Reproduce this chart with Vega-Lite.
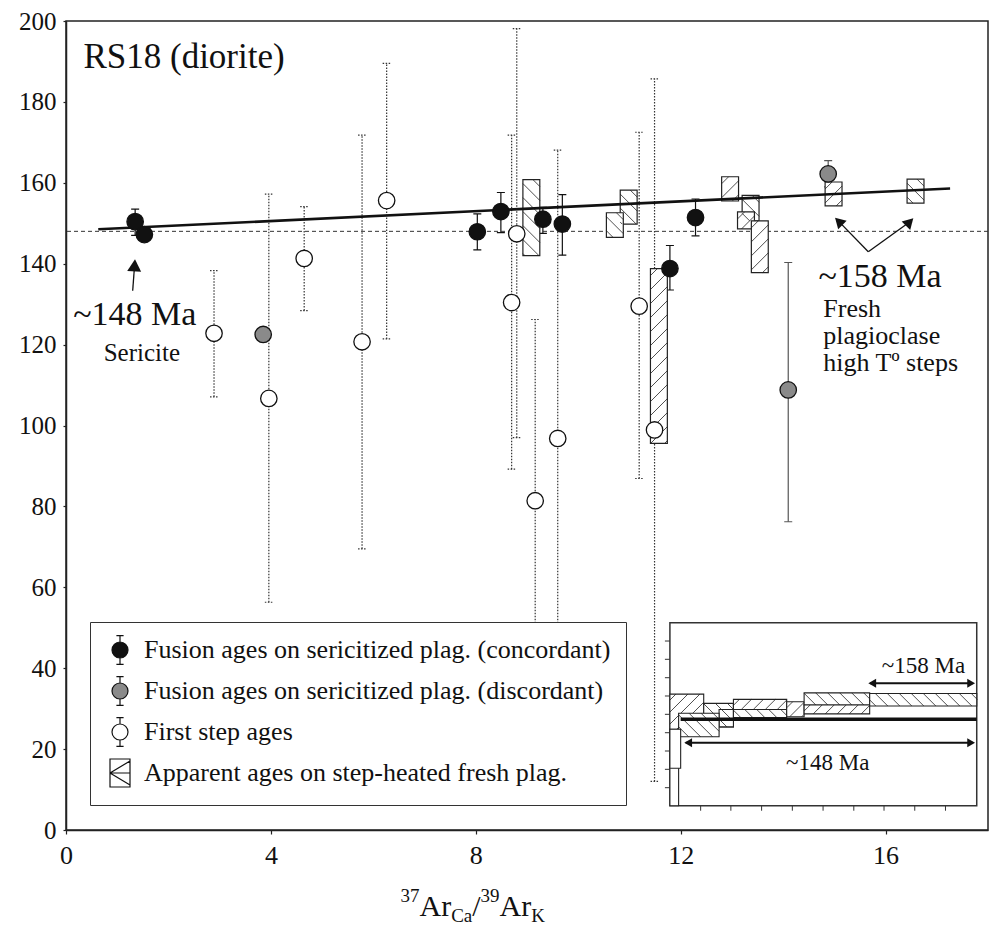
{
  "$schema": "https://vega.github.io/schema/vega-lite/v6.json",
  "width": 922,
  "height": 809,
  "autosize": {"type": "none"},
  "padding": {"left": 66, "top": 21, "right": 1, "bottom": 99},
  "background": "white",
  "config": {
    "font": "Liberation Serif",
    "view": {"stroke": "#222", "strokeWidth": 1.5},
    "axis": {"labelFont": "Liberation Serif", "labelColor": "#111", "domainColor": "#222", "tickColor": "#222", "domainWidth": 1.5, "tickWidth": 1.2, "grid": false},
    "text": {"font": "Liberation Serif", "color": "#111"}
  },
  "datasets": {
    "pts": [
      {"type": "Fusion ages on sericitized plag. (concordant)", "x": 1.35, "y": 150.4, "lo": 147.0, "hi": 153.5},
      {"type": "Fusion ages on sericitized plag. (concordant)", "x": 1.53, "y": 147.2},
      {"type": "Fusion ages on sericitized plag. (concordant)", "x": 8.03, "y": 147.9, "lo": 143.4, "hi": 152.3},
      {"type": "Fusion ages on sericitized plag. (concordant)", "x": 8.49, "y": 152.9, "lo": 147.7, "hi": 157.6},
      {"type": "Fusion ages on sericitized plag. (concordant)", "x": 9.31, "y": 151.0, "lo": 147.5, "hi": 153.9},
      {"type": "Fusion ages on sericitized plag. (concordant)", "x": 9.69, "y": 149.8, "lo": 142.1, "hi": 157.1},
      {"type": "Fusion ages on sericitized plag. (concordant)", "x": 11.79, "y": 138.8, "lo": 133.5, "hi": 144.5},
      {"type": "Fusion ages on sericitized plag. (concordant)", "x": 12.29, "y": 151.4, "lo": 146.9, "hi": 156.0},
      {"type": "Fusion ages on sericitized plag. (discordant)", "x": 3.85, "y": 122.5},
      {"type": "Fusion ages on sericitized plag. (discordant)", "x": 14.10, "y": 108.8, "lo": 76.2, "hi": 140.3},
      {"type": "Fusion ages on sericitized plag. (discordant)", "x": 14.88, "y": 162.2, "lo": 159.0, "hi": 165.5},
      {"type": "First step ages", "x": 2.89, "y": 122.8, "lo": 107.1, "hi": 138.3},
      {"type": "First step ages", "x": 3.96, "y": 106.7, "lo": 56.3, "hi": 157.2},
      {"type": "First step ages", "x": 4.65, "y": 141.3, "lo": 128.4, "hi": 154.1},
      {"type": "First step ages", "x": 5.78, "y": 120.7, "lo": 69.5, "hi": 171.8},
      {"type": "First step ages", "x": 6.26, "y": 155.6, "lo": 121.4, "hi": 189.5},
      {"type": "First step ages", "x": 8.70, "y": 130.4, "lo": 89.2, "hi": 171.8},
      {"type": "First step ages", "x": 8.80, "y": 147.4, "lo": 97.0, "hi": 198.1},
      {"type": "First step ages", "x": 9.16, "y": 81.4, "lo": 40.0, "hi": 126.2},
      {"type": "First step ages", "x": 9.60, "y": 96.8, "lo": 40.0, "hi": 168.1},
      {"type": "First step ages", "x": 11.19, "y": 129.5, "lo": 86.9, "hi": 172.5},
      {"type": "First step ages", "x": 11.49, "y": 98.9, "lo": 12.0, "hi": 185.7}
    ],
    "steps": [
      {"id": "B1", "x1": 8.92, "x2": 9.25, "y1": 142.0, "y2": 160.8},
      {"id": "B3", "x1": 10.82, "x2": 11.15, "y1": 149.8, "y2": 158.2},
      {"id": "B2", "x1": 10.55, "x2": 10.88, "y1": 146.5, "y2": 152.6},
      {"id": "B4", "x1": 11.41, "x2": 11.74, "y1": 95.6, "y2": 138.8},
      {"id": "B5", "x1": 12.80, "x2": 13.13, "y1": 155.5, "y2": 161.5},
      {"id": "B6", "x1": 13.20, "x2": 13.53, "y1": 150.6, "y2": 156.9},
      {"id": "B7", "x1": 13.11, "x2": 13.44, "y1": 148.6, "y2": 152.8},
      {"id": "B8", "x1": 13.38, "x2": 13.71, "y1": 137.8, "y2": 150.6},
      {"id": "B9", "x1": 14.82, "x2": 15.15, "y1": 154.3, "y2": 160.2},
      {"id": "B10", "x1": 16.42, "x2": 16.75, "y1": 155.0, "y2": 160.9}
    ],
    "spectrum": [
      {"id": "A", "x1": 11.79, "x2": 12.45, "y1": 24.0, "y2": 33.6},
      {"id": "B", "x1": 12.45, "x2": 13.03, "y1": 25.5, "y2": 31.3},
      {"id": "D", "x1": 12.75, "x2": 13.03, "y1": 25.5, "y2": 29.8},
      {"id": "C", "x1": 11.96, "x2": 12.75, "y1": 23.05, "y2": 28.85},
      {"id": "E1", "x1": 13.03, "x2": 14.07, "y1": 29.8, "y2": 32.3},
      {"id": "E2", "x1": 13.03, "x2": 14.07, "y1": 27.8, "y2": 29.8},
      {"id": "F", "x1": 14.07, "x2": 14.41, "y1": 28.0, "y2": 31.7},
      {"id": "G1", "x1": 14.41, "x2": 15.69, "y1": 30.9, "y2": 33.9},
      {"id": "G2", "x1": 14.41, "x2": 15.69, "y1": 28.7, "y2": 30.9},
      {"id": "H", "x1": 15.69, "x2": 17.78, "y1": 30.65, "y2": 33.75},
      {"id": "R1", "x1": 11.79, "x2": 11.96, "y1": 6.0, "y2": 24.9},
      {"id": "R2", "x1": 11.79, "x2": 12.0, "y1": 15.25, "y2": 24.9}
    ],
    "arrows": [
      {"g": "thin", "x": 1.302, "y": 133.3, "x2": 1.339, "y2": 139.6},
      {"g": "thin", "x": 15.663, "y": 142.97, "x2": 15.086, "y2": 150.46},
      {"g": "thin", "x": 15.663, "y": 142.97, "x2": 16.47, "y2": 150.3},
      {"g": "thick", "x": 12.10, "y": 21.6, "x2": 17.70, "y2": 21.6},
      {"g": "thick", "x": 15.70, "y": 36.3, "x2": 17.70, "y2": 36.3},
      {"g": "bold", "x": 12.0, "y": 27.4, "x2": 17.78, "y2": 27.4}
    ],
    "heads": [
      {"g": "up", "x": 1.339, "y": 139.6},
      {"g": "vl", "x": 15.086, "y": 150.46},
      {"g": "vr", "x": 16.47, "y": 150.3},
      {"g": "il", "x": 12.147, "y": 21.6},
      {"g": "il", "x": 15.74, "y": 36.3},
      {"g": "ir", "x": 17.671, "y": 21.6},
      {"g": "ir", "x": 17.671, "y": 36.3}
    ],
    "notes": [
      {"g": "n35", "x": 0.34, "y": 188.3, "text": "RS18 (diorite)"},
      {"g": "n34", "x": 0.14, "y": 124.8, "text": "~148 Ma"},
      {"g": "n34", "x": 14.69, "y": 134.3, "text": "~158 Ma"},
      {"g": "n25", "x": 1.48, "y": 116.0, "text": "Sericite"},
      {"g": "fresh", "x": 14.785, "y": 126.9, "text": "Fresh\nplagioclase\nhigh Tº steps"},
      {"g": "n23", "x": 16.74, "y": 38.7, "text": "~158 Ma"},
      {"g": "n23", "x": 14.87, "y": 14.8, "text": "~148 Ma"}
    ],
    "insetframe": [{"x1": 11.79, "x2": 17.78, "y1": 6.0, "y2": 51.25}],
    "insetyticks": [{"v": 10.46}, {"v": 15.0}, {"v": 19.53}, {"v": 24.05}, {"v": 28.6}, {"v": 33.13}, {"v": 37.65}, {"v": 42.2}, {"v": 46.72}],
    "insetxticks": [{"v": 12.39}, {"v": 12.98}, {"v": 13.58}, {"v": 14.18}, {"v": 14.78}, {"v": 15.38}, {"v": 15.97}, {"v": 16.57}, {"v": 17.17}],
    "xtitle": [{"x": 6.53, "y": -21.26}]
  },
  "layer": [
    {
      "data": {"name": "pts"},
      "transform": [{"filter": "isValid(datum.lo)"}],
      "mark": {"type": "rule", "strokeWidth": 1.2},
      "encoding": {
        "x": {"field": "x", "type": "quantitative", "scale": {"domain": [0, 18], "nice": false, "zero": false},
          "axis": {"title": null, "values": [0, 4, 8, 12, 16], "labelFontSize": 26, "labelPadding": 8, "labelFlush": false, "tickSize": 4}},
        "y": {"field": "lo", "type": "quantitative", "scale": {"domain": [0, 200], "nice": false},
          "axis": {"title": null, "values": [0, 20, 40, 60, 80, 100, 120, 140, 160, 180, 200], "labelFontSize": 25, "labelPadding": 7, "tickSize": 3}},
        "y2": {"field": "hi"},
        "stroke": {"field": "type", "type": "nominal", "legend": null,
          "scale": {"domain": ["Fusion ages on sericitized plag. (concordant)", "Fusion ages on sericitized plag. (discordant)", "First step ages"], "range": ["#111111", "#555555", "#333333"]}},
        "strokeDash": {"field": "type", "type": "nominal", "legend": null,
          "scale": {"domain": ["Fusion ages on sericitized plag. (concordant)", "Fusion ages on sericitized plag. (discordant)", "First step ages"], "range": [[1, 0], [1, 0], [1.5, 1.5]]}}
      }
    },
    {
      "data": {"name": "pts"},
      "transform": [{"filter": "isValid(datum.lo)"}, {"fold": ["lo", "hi"], "as": ["end", "v"]}],
      "mark": {"type": "point", "shape": "stroke", "filled": false, "size": 64, "strokeWidth": 1.2, "opacity": 1},
      "encoding": {
        "x": {"field": "x", "type": "quantitative"},
        "y": {"field": "v", "type": "quantitative"},
        "stroke": {"field": "type", "type": "nominal", "legend": null},
        "strokeDash": {"field": "type", "type": "nominal", "legend": null}
      }
    },
    {
      "data": {"values": [{"y": 148}]},
      "mark": {"type": "rule", "stroke": "#333", "strokeWidth": 1, "strokeDash": [4, 3]},
      "encoding": {"y": {"field": "y", "type": "quantitative"}}
    },
    {
      "data": {"name": "steps"},
      "mark": {"type": "rect", "fill": "white", "stroke": "#222", "strokeWidth": 1.2},
      "encoding": {"x": {"field": "x1", "type": "quantitative"}, "x2": {"field": "x2"}, "y": {"field": "y1", "type": "quantitative"}, "y2": {"field": "y2"}}
    },
    {"data": {"name": "steps"}, "transform": [{"filter": "datum.id=='B1'"}], "mark": {"type": "point", "shape": "M17,7L10,0M17,21L0,4M17,35L0,18M17,49L0,32M17,63L0,46M16,76L0,60M2,76L0,74", "size": 4, "filled": false, "stroke": "#222", "strokeWidth": 0.8, "opacity": 1}, "encoding": {"x": {"field": "x1", "type": "quantitative"}, "y": {"field": "y2", "type": "quantitative"}}},
    {"data": {"name": "steps"}, "transform": [{"filter": "datum.id=='B2'"}], "mark": {"type": "point", "shape": "M17,7L10,0M17,21L0,4M6.7,24.7L0,18", "size": 4, "filled": false, "stroke": "#222", "strokeWidth": 0.8, "opacity": 1}, "encoding": {"x": {"field": "x1", "type": "quantitative"}, "y": {"field": "y2", "type": "quantitative"}}},
    {"data": {"name": "steps"}, "transform": [{"filter": "datum.id=='B3'"}], "mark": {"type": "point", "shape": "M17,7L10,0M17,21L0,4M16,34L0,18M2,34L0,32", "size": 4, "filled": false, "stroke": "#222", "strokeWidth": 0.8, "opacity": 1}, "encoding": {"x": {"field": "x1", "type": "quantitative"}, "y": {"field": "y2", "type": "quantitative"}}},
    {"data": {"name": "steps"}, "transform": [{"filter": "datum.id=='B4'"}], "mark": {"type": "point", "shape": "M0,7L7,0M0,21L17,4M0,35L17,18M0,49L17,32M0,63L17,46M0,77L17,60M0,91L17,74M0,105L17,88M0,119L17,102M0,133L17,116M0,147L17,130M0,161L17,144M0.3,174.7L17,158M14.3,174.7L17,172", "size": 4, "filled": false, "stroke": "#222", "strokeWidth": 0.8, "opacity": 1}, "encoding": {"x": {"field": "x1", "type": "quantitative"}, "y": {"field": "y2", "type": "quantitative"}}},
    {"data": {"name": "steps"}, "transform": [{"filter": "datum.id=='B5'"}], "mark": {"type": "point", "shape": "M0,7L7,0M0,21L17,4M10.7,24.3L17,18", "size": 4, "filled": false, "stroke": "#222", "strokeWidth": 0.8, "opacity": 1}, "encoding": {"x": {"field": "x1", "type": "quantitative"}, "y": {"field": "y2", "type": "quantitative"}}},
    {"data": {"name": "steps"}, "transform": [{"filter": "datum.id=='B6'"}], "mark": {"type": "point", "shape": "M17,7L10,0M17,21L0,4M7.5,25.5L0,18", "size": 4, "filled": false, "stroke": "#222", "strokeWidth": 0.8, "opacity": 1}, "encoding": {"x": {"field": "x1", "type": "quantitative"}, "y": {"field": "y2", "type": "quantitative"}}},
    {"data": {"name": "steps"}, "transform": [{"filter": "datum.id=='B7'"}], "mark": {"type": "point", "shape": "M0,7L7,0M4,17L17,4", "size": 4, "filled": false, "stroke": "#222", "strokeWidth": 0.8, "opacity": 1}, "encoding": {"x": {"field": "x1", "type": "quantitative"}, "y": {"field": "y2", "type": "quantitative"}}},
    {"data": {"name": "steps"}, "transform": [{"filter": "datum.id=='B8'"}], "mark": {"type": "point", "shape": "M0,7L7,0M0,21L17,4M0,35L17,18M0,49L17,32M11.2,51.8L17,46", "size": 4, "filled": false, "stroke": "#222", "strokeWidth": 0.8, "opacity": 1}, "encoding": {"x": {"field": "x1", "type": "quantitative"}, "y": {"field": "y2", "type": "quantitative"}}},
    {"data": {"name": "steps"}, "transform": [{"filter": "datum.id=='B9'"}], "mark": {"type": "point", "shape": "M0,7L7,0M0,21L17,4M11.1,23.9L17,18", "size": 4, "filled": false, "stroke": "#222", "strokeWidth": 0.8, "opacity": 1}, "encoding": {"x": {"field": "x1", "type": "quantitative"}, "y": {"field": "y2", "type": "quantitative"}}},
    {"data": {"name": "steps"}, "transform": [{"filter": "datum.id=='B10'"}], "mark": {"type": "point", "shape": "M17,7L10,0M17,21L0,4M5.9,23.9L0,18", "size": 4, "filled": false, "stroke": "#222", "strokeWidth": 0.8, "opacity": 1}, "encoding": {"x": {"field": "x1", "type": "quantitative"}, "y": {"field": "y2", "type": "quantitative"}}},
    {
      "data": {"values": [{"x": 0.63, "y": 148.5, "x2": 17.26, "y2": 158.6}]},
      "mark": {"type": "rule", "stroke": "#111", "strokeWidth": 2.6},
      "encoding": {"x": {"field": "x", "type": "quantitative"}, "y": {"field": "y", "type": "quantitative"}, "x2": {"field": "x2"}, "y2": {"field": "y2"}}
    },
    {
      "data": {"name": "pts"},
      "mark": {"type": "point", "shape": "circle", "filled": true, "size": 270, "stroke": "#111", "strokeWidth": 1.3, "opacity": 1},
      "encoding": {
        "x": {"field": "x", "type": "quantitative"},
        "y": {"field": "y", "type": "quantitative"},
        "fill": {"field": "type", "type": "nominal",
          "scale": {"domain": ["Fusion ages on sericitized plag. (concordant)", "Fusion ages on sericitized plag. (discordant)", "First step ages", "Apparent ages on step-heated fresh plag."], "range": ["#111111", "#8a8a8a", "#ffffff", "#ffffff"]},
          "legend": {"orient": "none", "legendX": 24, "legendY": 601, "title": null, "labelFont": "Liberation Serif", "labelFontSize": 26, "labelColor": "#111", "labelLimit": 800, "symbolSize": 256, "symbolStrokeWidth": 1.2, "symbolStrokeColor": "#111", "padding": 15, "rowPadding": 7, "labelOffset": 11, "symbolOffset": 2, "strokeColor": "#333", "fillColor": "#ffffff"}}
      }
    },
    {
      "data": {"name": "arrows"},
      "transform": [{"filter": "datum.g=='thin'"}],
      "mark": {"type": "rule", "stroke": "#111", "strokeWidth": 1.3},
      "encoding": {"x": {"field": "x", "type": "quantitative"}, "y": {"field": "y", "type": "quantitative"}, "x2": {"field": "x2"}, "y2": {"field": "y2"}}
    },
    {"data": {"name": "heads"}, "transform": [{"filter": "datum.g=='up'"}], "mark": {"type": "point", "shape": "triangle-up", "angle": 4, "size": 196, "filled": true, "fill": "#111", "strokeWidth": 0, "opacity": 1}, "encoding": {"x": {"field": "x", "type": "quantitative"}, "y": {"field": "y", "type": "quantitative"}}},
    {"data": {"name": "heads"}, "transform": [{"filter": "datum.g=='vl'"}], "mark": {"type": "point", "shape": "triangle-up", "angle": -45, "size": 144, "filled": true, "fill": "#111", "strokeWidth": 0, "opacity": 1}, "encoding": {"x": {"field": "x", "type": "quantitative"}, "y": {"field": "y", "type": "quantitative"}}},
    {"data": {"name": "heads"}, "transform": [{"filter": "datum.g=='vr'"}], "mark": {"type": "point", "shape": "triangle-up", "angle": 45, "size": 144, "filled": true, "fill": "#111", "strokeWidth": 0, "opacity": 1}, "encoding": {"x": {"field": "x", "type": "quantitative"}, "y": {"field": "y", "type": "quantitative"}}},
    {"data": {"name": "notes"}, "transform": [{"filter": "datum.g=='n35'"}], "mark": {"type": "text", "align": "left", "baseline": "alphabetic", "fontSize": 35, "font": "Liberation Serif", "color": "#111"}, "encoding": {"x": {"field": "x", "type": "quantitative"}, "y": {"field": "y", "type": "quantitative"}, "text": {"field": "text"}}},
    {"data": {"name": "notes"}, "transform": [{"filter": "datum.g=='n34'"}], "mark": {"type": "text", "align": "left", "baseline": "alphabetic", "fontSize": 34, "font": "Liberation Serif", "color": "#111"}, "encoding": {"x": {"field": "x", "type": "quantitative"}, "y": {"field": "y", "type": "quantitative"}, "text": {"field": "text"}}},
    {"data": {"name": "notes"}, "transform": [{"filter": "datum.g=='n25'"}], "mark": {"type": "text", "align": "center", "baseline": "alphabetic", "fontSize": 25, "font": "Liberation Serif", "color": "#111"}, "encoding": {"x": {"field": "x", "type": "quantitative"}, "y": {"field": "y", "type": "quantitative"}, "text": {"field": "text"}}},
    {"data": {"name": "notes"}, "transform": [{"filter": "datum.g=='fresh'"}], "mark": {"type": "text", "align": "left", "baseline": "alphabetic", "fontSize": 26, "lineHeight": 27, "lineBreak": "\n", "font": "Liberation Serif", "color": "#111"}, "encoding": {"x": {"field": "x", "type": "quantitative"}, "y": {"field": "y", "type": "quantitative"}, "text": {"field": "text"}}},
    {
      "data": {"name": "insetframe"},
      "mark": {"type": "rect", "fill": "white", "stroke": "#333", "strokeWidth": 1.5},
      "encoding": {"x": {"field": "x1", "type": "quantitative"}, "x2": {"field": "x2"}, "y": {"field": "y1", "type": "quantitative"}, "y2": {"field": "y2"}}
    },
    {"data": {"name": "insetyticks"}, "mark": {"type": "point", "shape": "stroke", "size": 25, "filled": false, "stroke": "#333", "strokeWidth": 1, "xOffset": -2.5, "opacity": 1}, "encoding": {"x": {"datum": 11.79, "type": "quantitative"}, "y": {"field": "v", "type": "quantitative"}}},
    {"data": {"name": "insetxticks"}, "mark": {"type": "point", "shape": "stroke", "angle": 90, "size": 25, "filled": false, "stroke": "#333", "strokeWidth": 1, "yOffset": 2.5, "opacity": 1}, "encoding": {"x": {"field": "v", "type": "quantitative"}, "y": {"datum": 6.0, "type": "quantitative"}}},
    {
      "data": {"name": "spectrum"},
      "transform": [{"filter": "datum.id=='A' || datum.id=='B' || datum.id=='D'"}],
      "mark": {"type": "rect", "fill": "white", "stroke": "#222", "strokeWidth": 1.1},
      "encoding": {"x": {"field": "x1", "type": "quantitative"}, "x2": {"field": "x2"}, "y": {"field": "y1", "type": "quantitative"}, "y2": {"field": "y2"}}
    },
    {"data": {"name": "spectrum"}, "transform": [{"filter": "datum.id=='A'"}], "mark": {"type": "point", "shape": "M0,6L6,0M0,18L18,0M0,30L30,0M3.2,38.8L33.8,8.2M15.2,38.8L33.8,20.2M27.2,38.8L33.8,32.2", "size": 4, "filled": false, "stroke": "#222", "strokeWidth": 0.8, "opacity": 1}, "encoding": {"x": {"field": "x1", "type": "quantitative"}, "y": {"field": "y2", "type": "quantitative"}}},
    {"data": {"name": "spectrum"}, "transform": [{"filter": "datum.id=='B'"}], "mark": {"type": "point", "shape": "M29.7,6L23.7,0M29.7,18L11.7,0M23.2,23.5L0,0.3M11.2,23.5L0,12.3", "size": 4, "filled": false, "stroke": "#222", "strokeWidth": 0.8, "opacity": 1}, "encoding": {"x": {"field": "x1", "type": "quantitative"}, "y": {"field": "y2", "type": "quantitative"}}},
    {
      "data": {"name": "spectrum"},
      "transform": [{"filter": "datum.id=='C'"}],
      "mark": {"type": "rect", "fill": "white", "stroke": "#222", "strokeWidth": 1.1},
      "encoding": {"x": {"field": "x1", "type": "quantitative"}, "x2": {"field": "x2"}, "y": {"field": "y1", "type": "quantitative"}, "y2": {"field": "y2"}}
    },
    {"data": {"name": "spectrum"}, "transform": [{"filter": "datum.id=='C'"}], "mark": {"type": "point", "shape": "M40.5,6L34.5,0M40.5,18L22.5,0M34,23.5L10.5,0M22,23.5L0,1.5M10,23.5L0,13.5", "size": 4, "filled": false, "stroke": "#222", "strokeWidth": 0.8, "opacity": 1}, "encoding": {"x": {"field": "x1", "type": "quantitative"}, "y": {"field": "y2", "type": "quantitative"}}},
    {
      "data": {"name": "spectrum"},
      "transform": [{"filter": "indexof(['E1','E2','F','G1','G2','H'], datum.id) >= 0"}],
      "mark": {"type": "rect", "fill": "white", "stroke": "#222", "strokeWidth": 1.1},
      "encoding": {"x": {"field": "x1", "type": "quantitative"}, "x2": {"field": "x2"}, "y": {"field": "y1", "type": "quantitative"}, "y2": {"field": "y2"}}
    },
    {"data": {"name": "spectrum"}, "transform": [{"filter": "datum.id=='E1'"}], "mark": {"type": "point", "shape": "M0,6L6,0M7.9,10.1L18,0M19.9,10.1L30,0M31.9,10.1L42,0M43.9,10.1L53.3,0.7", "size": 4, "filled": false, "stroke": "#222", "strokeWidth": 0.8, "opacity": 1}, "encoding": {"x": {"field": "x1", "type": "quantitative"}, "y": {"field": "y2", "type": "quantitative"}}},
    {"data": {"name": "spectrum"}, "transform": [{"filter": "datum.id=='E2'"}], "mark": {"type": "point", "shape": "M53.3,6L47.3,0M43.4,8.1L35.3,0M31.4,8.1L23.3,0M19.4,8.1L11.3,0M7.4,8.1L0,0.7", "size": 4, "filled": false, "stroke": "#222", "strokeWidth": 0.8, "opacity": 1}, "encoding": {"x": {"field": "x1", "type": "quantitative"}, "y": {"field": "y2", "type": "quantitative"}}},
    {"data": {"name": "spectrum"}, "transform": [{"filter": "datum.id=='F'"}], "mark": {"type": "point", "shape": "M0,6L6,0M3,15L17.4,0.6M15,15L17.4,12.6", "size": 4, "filled": false, "stroke": "#222", "strokeWidth": 0.8, "opacity": 1}, "encoding": {"x": {"field": "x1", "type": "quantitative"}, "y": {"field": "y2", "type": "quantitative"}}},
    {"data": {"name": "spectrum"}, "transform": [{"filter": "datum.id=='G1'"}], "mark": {"type": "point", "shape": "M65.6,6L59.6,0M59.7,12.1L47.6,0M47.7,12.1L35.6,0M35.7,12.1L23.6,0M23.7,12.1L11.6,0M11.7,12.1L0,0.4", "size": 4, "filled": false, "stroke": "#222", "strokeWidth": 0.8, "opacity": 1}, "encoding": {"x": {"field": "x1", "type": "quantitative"}, "y": {"field": "y2", "type": "quantitative"}}},
    {"data": {"name": "spectrum"}, "transform": [{"filter": "datum.id=='G2'"}], "mark": {"type": "point", "shape": "M0,6L6,0M9.1,8.9L18,0M21.1,8.9L30,0M33.1,8.9L42,0M45.1,8.9L54,0M57.1,8.9L65.6,0.4", "size": 4, "filled": false, "stroke": "#222", "strokeWidth": 0.8, "opacity": 1}, "encoding": {"x": {"field": "x1", "type": "quantitative"}, "y": {"field": "y2", "type": "quantitative"}}},
    {"data": {"name": "spectrum"}, "transform": [{"filter": "datum.id=='H'"}], "mark": {"type": "point", "shape": "M107.6,6L101.6,0M102.1,12.5L89.6,0M90.1,12.5L77.6,0M78.1,12.5L65.6,0M66.1,12.5L53.6,0M54.1,12.5L41.6,0M42.1,12.5L29.6,0M30.1,12.5L17.6,0M18.1,12.5L5.6,0M6.1,12.5L0,6.4", "size": 4, "filled": false, "stroke": "#222", "strokeWidth": 0.8, "opacity": 1}, "encoding": {"x": {"field": "x1", "type": "quantitative"}, "y": {"field": "y2", "type": "quantitative"}}},
    {
      "data": {"name": "spectrum"},
      "transform": [{"filter": "datum.id=='R1' || datum.id=='R2'"}],
      "mark": {"type": "rect", "fill": "white", "stroke": "#222", "strokeWidth": 1.1},
      "encoding": {"x": {"field": "x1", "type": "quantitative"}, "x2": {"field": "x2"}, "y": {"field": "y1", "type": "quantitative"}, "y2": {"field": "y2"}}
    },
    {
      "data": {"name": "arrows"},
      "transform": [{"filter": "datum.g=='bold'"}],
      "mark": {"type": "rule", "stroke": "#111", "strokeWidth": 3.5},
      "encoding": {"x": {"field": "x", "type": "quantitative"}, "y": {"field": "y", "type": "quantitative"}, "x2": {"field": "x2"}, "y2": {"field": "y2"}}
    },
    {
      "data": {"name": "arrows"},
      "transform": [{"filter": "datum.g=='thick'"}],
      "mark": {"type": "rule", "stroke": "#111", "strokeWidth": 2},
      "encoding": {"x": {"field": "x", "type": "quantitative"}, "y": {"field": "y", "type": "quantitative"}, "x2": {"field": "x2"}, "y2": {"field": "y2"}}
    },
    {"data": {"name": "heads"}, "transform": [{"filter": "datum.g=='il'"}], "mark": {"type": "point", "shape": "triangle-left", "size": 81, "filled": true, "fill": "#111", "strokeWidth": 0, "opacity": 1}, "encoding": {"x": {"field": "x", "type": "quantitative"}, "y": {"field": "y", "type": "quantitative"}}},
    {"data": {"name": "heads"}, "transform": [{"filter": "datum.g=='ir'"}], "mark": {"type": "point", "shape": "triangle-right", "size": 81, "filled": true, "fill": "#111", "strokeWidth": 0, "opacity": 1}, "encoding": {"x": {"field": "x", "type": "quantitative"}, "y": {"field": "y", "type": "quantitative"}}},
    {"data": {"name": "notes"}, "transform": [{"filter": "datum.g=='n23'"}], "mark": {"type": "text", "align": "center", "baseline": "alphabetic", "fontSize": 23, "font": "Liberation Serif", "color": "#111"}, "encoding": {"x": {"field": "x", "type": "quantitative"}, "y": {"field": "y", "type": "quantitative"}, "text": {"field": "text"}}},
    {"data": {"name": "xtitle"}, "mark": {"type": "text", "text": "37", "align": "left", "baseline": "alphabetic", "fontSize": 19, "dx": 0, "dy": -14, "font": "Liberation Serif", "color": "#111"}, "encoding": {"x": {"field": "x", "type": "quantitative"}, "y": {"field": "y", "type": "quantitative"}}},
    {"data": {"name": "xtitle"}, "mark": {"type": "text", "text": "Ar", "align": "left", "baseline": "alphabetic", "fontSize": 30, "dx": 19, "dy": 0, "font": "Liberation Serif", "color": "#111"}, "encoding": {"x": {"field": "x", "type": "quantitative"}, "y": {"field": "y", "type": "quantitative"}}},
    {"data": {"name": "xtitle"}, "mark": {"type": "text", "text": "Ca", "align": "left", "baseline": "alphabetic", "fontSize": 19, "dx": 50.7, "dy": 6, "font": "Liberation Serif", "color": "#111"}, "encoding": {"x": {"field": "x", "type": "quantitative"}, "y": {"field": "y", "type": "quantitative"}}},
    {"data": {"name": "xtitle"}, "mark": {"type": "text", "text": "/", "align": "left", "baseline": "alphabetic", "fontSize": 30, "dx": 71.8, "dy": 0, "font": "Liberation Serif", "color": "#111"}, "encoding": {"x": {"field": "x", "type": "quantitative"}, "y": {"field": "y", "type": "quantitative"}}},
    {"data": {"name": "xtitle"}, "mark": {"type": "text", "text": "39", "align": "left", "baseline": "alphabetic", "fontSize": 19, "dx": 80.1, "dy": -14, "font": "Liberation Serif", "color": "#111"}, "encoding": {"x": {"field": "x", "type": "quantitative"}, "y": {"field": "y", "type": "quantitative"}}},
    {"data": {"name": "xtitle"}, "mark": {"type": "text", "text": "Ar", "align": "left", "baseline": "alphabetic", "fontSize": 30, "dx": 99.1, "dy": 0, "font": "Liberation Serif", "color": "#111"}, "encoding": {"x": {"field": "x", "type": "quantitative"}, "y": {"field": "y", "type": "quantitative"}}},
    {"data": {"name": "xtitle"}, "mark": {"type": "text", "text": "K", "align": "left", "baseline": "alphabetic", "fontSize": 19, "dx": 130.8, "dy": 6, "font": "Liberation Serif", "color": "#111"}, "encoding": {"x": {"field": "x", "type": "quantitative"}, "y": {"field": "y", "type": "quantitative"}}},
    {
      "data": {"name": "pts"},
      "transform": [{"filter": "false"}],
      "mark": {"type": "point", "filled": true, "stroke": "#111", "strokeWidth": 1.2, "opacity": 1},
      "encoding": {
        "x": {"field": "x", "type": "quantitative"},
        "y": {"field": "y", "type": "quantitative"},
        "fill": {"field": "type", "type": "nominal",
          "legend": {"orient": "none", "legendX": 24, "legendY": 601, "title": null, "labelFont": "Liberation Serif", "labelFontSize": 26, "labelColor": "#111", "labelLimit": 800, "symbolSize": 256, "symbolStrokeWidth": 1.2, "symbolStrokeColor": "#111", "padding": 15, "rowPadding": 7, "labelOffset": 11, "symbolOffset": 2, "strokeColor": "#333", "fillColor": "#ffffff"}},
        "shape": {"field": "type", "type": "nominal",
          "scale": {"domain": ["Fusion ages on sericitized plag. (concordant)", "Fusion ages on sericitized plag. (discordant)", "First step ages", "Apparent ages on step-heated fresh plag."],
            "range": ["M-1,0A1,1,0,1,0,1,0A1,1,0,1,0,-1,0ZM0,-1V-1.8M-0.45,-1.8H0.45M0,1V1.8M-0.45,1.8H0.45", "M-1,0A1,1,0,1,0,1,0A1,1,0,1,0,-1,0ZM0,-1V-1.8M-0.45,-1.8H0.45M0,1V1.8M-0.45,1.8H0.45", "M-1,0A1,1,0,1,0,1,0A1,1,0,1,0,-1,0ZM0,-1V-1.8M-0.45,-1.8H0.45M0,1V1.8M-0.45,1.8H0.45", "M-1.25,-1.75H1.25V1.75H-1.25ZM-1.25,0H1.25M-1.25,0L1.25,-1.5M-1.25,0L1.25,1.5"]},
          "legend": {"orient": "none", "legendX": 24, "legendY": 601, "title": null, "labelFont": "Liberation Serif", "labelFontSize": 26, "labelColor": "#111", "labelLimit": 800, "symbolSize": 256, "symbolStrokeWidth": 1.2, "symbolStrokeColor": "#111", "padding": 15, "rowPadding": 7, "labelOffset": 11, "symbolOffset": 2, "strokeColor": "#333", "fillColor": "#ffffff"}}
      }
    }
  ]
}
